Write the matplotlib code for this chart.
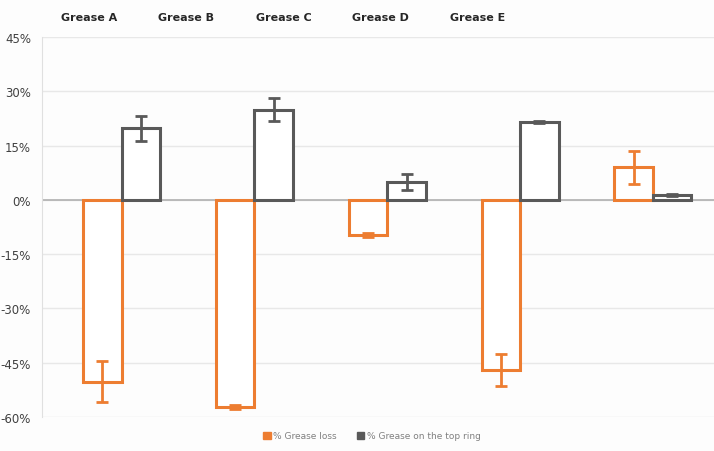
import matplotlib.pyplot as plt
import numpy as np
from matplotlib.patches import Patch

# values (percent)
greases = ['Grease A', 'Grease B', 'Grease C', 'Grease D', 'Grease E']
loss = [-50.2, -57.3, -9.7, -47.1, 9.0]
loss_err = [5.7, 0.5, 0.5, 4.4, 4.6]
top_ring = [19.8, 24.9, 4.9, 21.5, 1.3]
top_ring_err = [3.5, 3.2, 2.2, 0.4, 0.3]
yticks = [-60, -45, -30, -15, 0, 15, 30, 45]

ORANGE = '#ED7D31'
GREY = '#595959'

fig = plt.figure(figsize=(7.14, 4.52), dpi=100, facecolor='#FDFDFD')
ax = fig.add_axes([42 / 714, 1 - 418 / 452, 1 - 42 / 714, (418 - 38) / 452])
ax.set_facecolor('#FDFDFD')

x = np.arange(len(greases))
w = 0.29
ax.bar(x - w / 2, loss, w, facecolor='white', edgecolor=ORANGE, linewidth=2.2,
       yerr=loss_err, error_kw=dict(ecolor=ORANGE, elinewidth=2, capsize=4, capthick=2),
       zorder=3)
ax.bar(x + w / 2, top_ring, w, facecolor='white', edgecolor=GREY, linewidth=2.2,
       yerr=top_ring_err, error_kw=dict(ecolor=GREY, elinewidth=2, capsize=4, capthick=2),
       zorder=3)

ax.set_xlim(-0.6, 4.46)
ax.set_ylim(-60, 45)
ax.set_yticks(yticks)
ax.set_yticklabels([f'{t}%' for t in yticks], fontsize=8.5, color='#404040')
ax.set_xticks([])
ax.tick_params(axis='y', length=0, pad=8)
ax.grid(axis='y', color='#E8E8E8', linewidth=1, zorder=0)
ax.axhline(0, color='#B0B0B0', linewidth=1.2, zorder=2)
for s in ['top', 'right', 'bottom']:
    ax.spines[s].set_visible(False)
ax.spines['left'].set_color('#E0E0E0')

# category labels across the top
label_x = np.linspace(89, 478, len(greases)) / 714
for lx, name in zip(label_x, greases):
    fig.text(lx, 1 - 18 / 452, name, ha='center', va='center',
             fontsize=8, fontweight='bold', color='#262626')

handles = [Patch(facecolor=ORANGE, edgecolor=ORANGE, label='% Grease loss'),
           Patch(facecolor=GREY, edgecolor=GREY, label='% Grease on the top ring')]
fig.legend(handles=handles, loc='center', bbox_to_anchor=(372 / 714, 1 - 437 / 452),
           ncol=2, frameon=False, fontsize=6.5, handlelength=0.8, handleheight=0.8,
           handletextpad=0.3, columnspacing=2.2, labelcolor='#808080')

fig.savefig('out.png', dpi=100, facecolor=fig.get_facecolor())
